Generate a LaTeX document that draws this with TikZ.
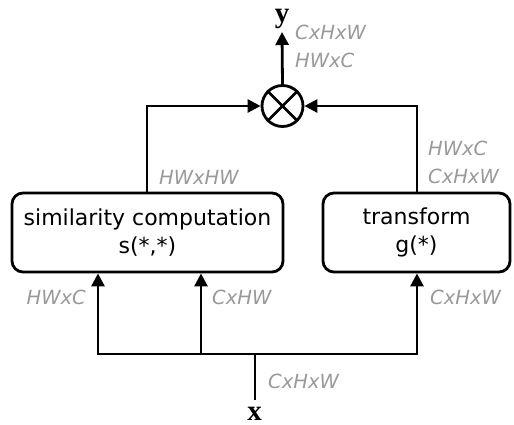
\documentclass[tikz,border=0pt]{standalone}
\usepackage[no-math]{fontspec}
\setmainfont{DejaVu Sans}
\newfontfamily\varfont{Liberation Serif}
\usetikzlibrary{arrows.meta}
\begin{document}
\begin{tikzpicture}[x=1pt,y=-1pt,
  conn/.style={line width=2.8pt,-{Triangle[length=13pt,width=13pt]}},
  plain/.style={line width=2.8pt},
  box/.style={draw,line width=2.8pt,rounded corners=11pt,align=center,font=\fontsize{22}{28}\selectfont,inner sep=0pt},
  dim/.style={text=black!40,font=\fontsize{19.5}{28}\selectfont\itshape,inner sep=0pt,align=left},
  var/.style={font=\varfont\bfseries\fontsize{29}{29}\selectfont,inner sep=0pt}]
\useasboundingbox (0,0) rectangle (514,425);
\node[box,minimum width=271pt,minimum height=79pt] (sim) at (147.5,232.5) {similarity computation\\s(*,*)};
\node[box,minimum width=187pt,minimum height=79pt] (tr) at (416.5,232.5) {transform\\g(*)};
\node[draw,circle,line width=2.8pt,minimum size=41pt,inner sep=0pt] (mul) at (282.5,106) {};
\draw[line width=2.8pt] (mul.north west) -- (mul.south east) (mul.north east) -- (mul.south west);
\node[var,anchor=base] (y) at (282,22.5) {y};
\node[var,anchor=base] (x) at (254.5,420) {x};
\coordinate (top) at (282,32);
\coordinate (xb) at (255,400);
\coordinate (hj) at (255,354);
\coordinate (hl) at (98,354);
\coordinate (hm) at (201,354);
\coordinate (hr) at (417,354);
\coordinate (l1) at (147,106);
\coordinate (r1) at (417,106);
\draw[conn] (mul.north) -- (top);
\draw[conn] (sim.north -| l1) -- (l1) -- (mul.west);
\draw[conn] (tr.north -| r1) -- (r1) -- (mul.east);
\draw[plain] (xb) -- (hj);
\draw[plain,line cap=rect] (hl) -- (hr);
\draw[conn] (hl) -- (hl |- sim.south);
\draw[conn] (hm) -- (hm |- sim.south);
\draw[conn] (hr) -- (hr |- tr.south);
\node[dim,anchor=west] (d1) at (295,46) {CxHxW\\HWxC};
\node[dim,anchor=west] (d2) at (159,177) {HWxHW};
\node[dim,anchor=east] (d3) at (499,162) {HWxC\\CxHxW};
\node[dim,anchor=east] (d4) at (86,297) {HWxC};
\node[dim,anchor=west] (d5) at (212,297) {CxHW};
\node[dim,anchor=west] (d6) at (430,297) {CxHxW};
\node[dim,anchor=west] (d7) at (268,381) {CxHxW};
\end{tikzpicture}
\end{document}
